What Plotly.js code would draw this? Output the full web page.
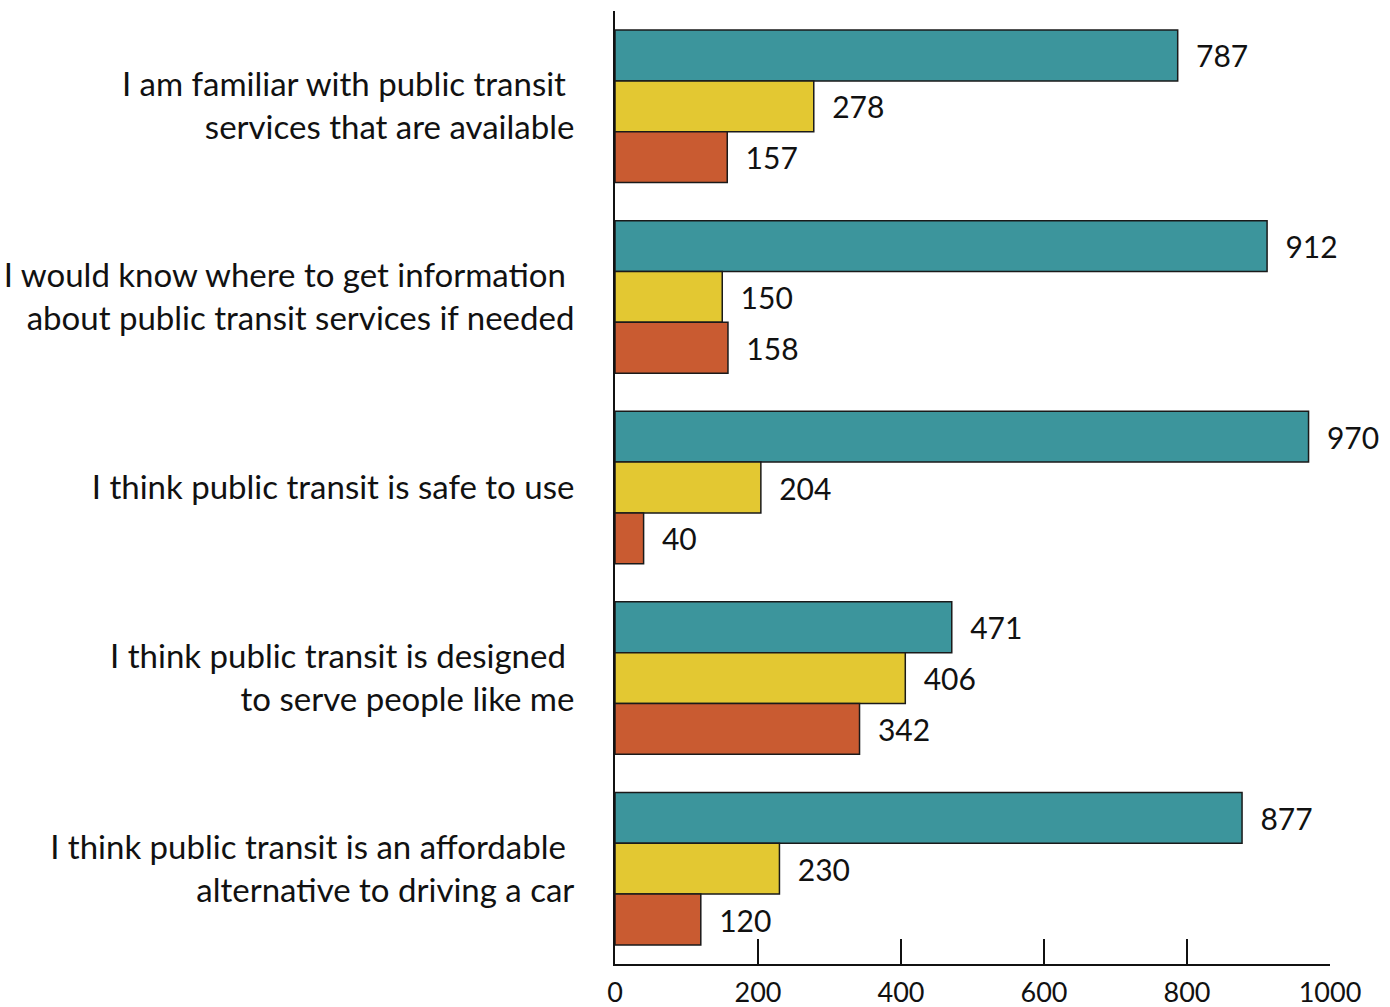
<!DOCTYPE html>
<html>
<head>
<meta charset="utf-8">
<script src="https://cdn.plot.ly/plotly-3.0.1.min.js"></script>
<style>html,body{margin:0;padding:0;background:#fff;}#chart{width:1390px;height:1007px;}</style>
</head>
<body>
<div id="chart"></div>
<script>
const categories = [
  "I am familiar with public transit <br>services that are available",
  "I would know where to get information <br>about public transit services if needed",
  "I think public transit is safe to use",
  "I think public transit is designed <br>to serve people like me",
  "I think public transit is an affordable <br>alternative to driving a car"
];
const seriesA = [787, 912, 970, 471, 877];
const seriesB = [278, 150, 204, 406, 230];
const seriesC = [157, 158, 40, 342, 120];
const colors = ["#3C959C", "#E3C832", "#C95B31"];
const xTicks = [0, 200, 400, 600, 800, 1000];

const FONT = "Lato, 'Open Sans', sans-serif";
function mk(vals, color) {
  return {
    type: "bar", orientation: "h",
    y: categories, x: vals,
    marker: {color: color, line: {color: "#1a1a1a", width: 1.5}},
    text: vals.map(v => "\u00a0\u00a0" + v),
    texttemplate: "%{text}",
    textposition: "outside",
    cliponaxis: false,
    textfont: {family: FONT, size: 30, color: "#111"},
    hoverinfo: "none"
  };
}
const data = [mk(seriesA, colors[0]), mk(seriesB, colors[1]), mk(seriesC, colors[2])];
const layout = {
  width: 1390, height: 1007,
  margin: {l: 615, r: 60, t: 11, b: 43, pad: 0},
  paper_bgcolor: "#fff", plot_bgcolor: "#fff",
  barmode: "group", bargap: 0.2, bargroupgap: 0,
  showlegend: false,
  font: {family: FONT, color: "#111"},
  xaxis: {
    range: [0, 1000], tickvals: xTicks, ticktext: xTicks.map(String),
    showgrid: false, zeroline: false, showline: true, linecolor: "#111", linewidth: 2,
    ticks: "inside", ticklen: 25, tickwidth: 2, tickcolor: "#111",
    ticklabelstandoff: 4,
    tickfont: {family: FONT, size: 27, color: "#111"}
  },
  yaxis: {
    type: "category", range: [4.5, -0.5],
    showgrid: false, zeroline: false, showline: true, linecolor: "#111", linewidth: 2,
    ticks: "", ticklabelstandoff: 32,
    tickfont: {family: FONT, size: 33, color: "#111"}
  }
};
Plotly.newPlot("chart", data, layout, {displayModeBar: false, staticPlot: true});
</script>
</body>
</html>
